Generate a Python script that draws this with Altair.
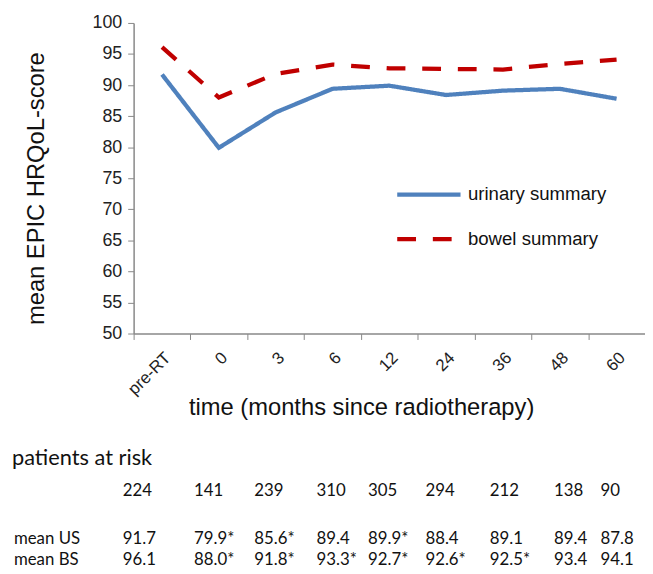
import altair as alt
import pandas as pd
import json

categories = ["pre-RT", "0", "3", "6", "12", "24", "36", "48", "60"]
urinary = [91.7, 79.9, 85.6, 89.4, 89.9, 88.4, 89.1, 89.4, 87.8]
bowel = [96.1, 88.0, 91.8, 93.3, 92.7, 92.6, 92.5, 93.4, 94.1]
at_risk = [224, 141, 239, 310, 305, 294, 212, 138, 90]
us_sig = [False, True, True, False, True, False, False, False, False]
bs_sig = [False, True, True, True, True, True, True, False, False]
series_names = ["urinary summary", "bowel summary"]
row_names = ["n", "mean US", "mean BS"]

FONT = "Liberation Sans"
TFONT = "Lato"

# table layout (pixel offsets relative to the plot area's top-left corner)
table_cols = ["label"] + categories
table_col_x = [-121, -11, 61, 122, 185, 237, 295, 360, 425, 472]
table_row_y = [473, 522, 543]

lines_df = pd.DataFrame({
    "time": categories * 2,
    "score": urinary + bowel,
    "series": [series_names[0]] * len(categories) + [series_names[1]] * len(categories),
})

rows = []
for c, n in zip(categories, at_risk):
    rows.append({"col": c, "row": "n", "text": str(n)})
for c, v, s in zip(categories, urinary, us_sig):
    rows.append({"col": c, "row": "mean US", "text": f"{v:.1f}" + ("*" if s else "")})
for c, v, s in zip(categories, bowel, bs_sig):
    rows.append({"col": c, "row": "mean BS", "text": f"{v:.1f}" + ("*" if s else "")})
rows.append({"col": "label", "row": "mean US", "text": "mean US"})
rows.append({"col": "label", "row": "mean BS", "text": "mean BS"})
table_df = pd.DataFrame(rows)

lines = alt.Chart(lines_df).mark_line(strokeWidth=4.3).encode(
    x=alt.X(
        "time:N",
        sort=categories,
        bandPosition=0.5,
        scale=alt.Scale(type="band", paddingInner=0, paddingOuter=0),
        axis=alt.Axis(
            title="time (months since radiotherapy)",
            tickBand="extent",
            labelAngle=315,
            labelAlign="right",
            labelBaseline="top",
            labelFont=FONT,
            labelFontSize=17,
            labelColor="#222222",
            labelPadding=10,
            tickSize=6,
            tickColor="#888888",
            domainColor="#888888",
            domainWidth=1.5,
            grid=False,
            titleFont=FONT,
            titleFontSize=24,
            titleFontWeight="normal",
            titleColor="#111111",
            titleX=230,
            titleY=82,
            titleBaseline="alphabetic",
        ),
    ),
    y=alt.Y(
        "score:Q",
        scale=alt.Scale(domain=[50, 100], nice=False, zero=False),
        axis=alt.Axis(
            title="mean EPIC HRQoL-score",
            values=list(range(50, 101, 5)),
            grid=False,
            tickSize=6,
            tickColor="#888888",
            domainColor="#888888",
            domainWidth=1.5,
            labelFont=FONT,
            labelFontSize=18,
            labelColor="#222222",
            labelPadding=6,
            titleFont=FONT,
            titleFontSize=24,
            titleFontWeight="normal",
            titleColor="#111111",
            titleX=-98,
            titleY=167,
            titleBaseline="middle",
        ),
    ),
    color=alt.Color(
        "series:N",
        scale=alt.Scale(domain=series_names, range=["#4F81BD", "#C00000"]),
        legend=alt.Legend(
            title=None,
            orient="none",
            legendX=264,
            legendY=139,
            symbolType="stroke",
            symbolSize=4096,
            symbolStrokeWidth=4.3,
            labelFont=FONT,
            labelFontSize=18.8,
            labelColor="#111111",
            labelOffset=5,
            rowPadding=-1,
        ),
    ),
    strokeDash=alt.StrokeDash(
        "series:N",
        scale=alt.Scale(domain=series_names, range=[[1, 0], [19, 17]]),
        legend=alt.Legend(title=None),
    ),
)

xexpr = f"{json.dumps(table_col_x)}[indexof({json.dumps(table_cols)}, datum.col)]"
yexpr = f"{json.dumps(table_row_y)}[indexof({json.dumps(row_names)}, datum.row)]"

table = alt.Chart(table_df).transform_calculate(
    xpos=xexpr, ypos=yexpr
).mark_text(
    align="left", baseline="middle", font=TFONT, fontSize=17, color="#111111"
).encode(
    x=alt.X("xpos:Q", scale=alt.Scale(domain=[0, 100], range=[0, 100]), axis=None),
    y=alt.Y("ypos:Q", scale=alt.Scale(domain=[0, 100], range=[0, 100]), axis=None),
    text="text:N",
)

header = alt.Chart(pd.DataFrame({"t": ["patients at risk"]})).mark_text(
    align="left", baseline="middle", font=TFONT, fontSize=22, color="#111111"
).encode(
    x=alt.value(-123),
    y=alt.value(440),
    text="t:N",
)

chart = alt.layer(lines, table, header).resolve_scale(
    x="independent", y="independent"
).properties(
    width=517,
    height=314,
    autosize=alt.AutoSizeParams(type="none"),
    padding={"left": 127, "top": 12, "right": 0, "bottom": 240},
).configure_view(stroke=None)

chart.save("out.html", embed_options={"renderer": "svg", "actions": False})
